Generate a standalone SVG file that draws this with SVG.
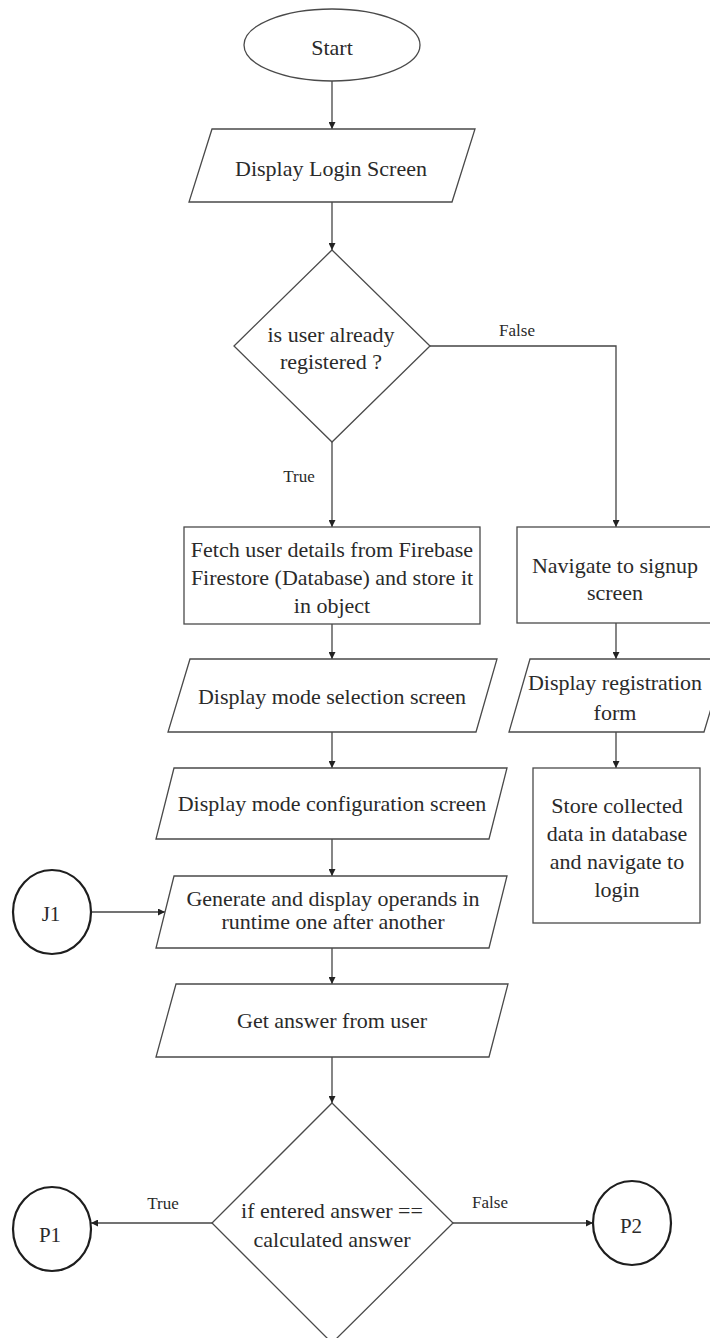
<svg xmlns="http://www.w3.org/2000/svg" width="710" height="1338" viewBox="0 0 710 1338">
<style>
.s{fill:#fff;stroke:#4a4a4a;stroke-width:1.3}
.c{fill:#fff;stroke:#1e1e1e;stroke-width:2.2}
.t{font-family:"Liberation Serif","Times New Roman",serif;font-size:22px;fill:#2a2a2a;text-anchor:middle}
.l{font-family:"Liberation Serif","Times New Roman",serif;font-size:17px;fill:#2a2a2a;text-anchor:middle}
.e{fill:none;stroke:#444;stroke-width:1.3}
</style>
<defs>
<marker id="ah" viewBox="0 0 10 10" refX="10" refY="5" markerWidth="7" markerHeight="7" markerUnits="userSpaceOnUse" orient="auto">
<path d="M0,0 L10,5 L0,10 z" fill="#222"/>
</marker>
</defs>
<rect width="710" height="1338" fill="#fff"/>
<g id="connectors">
<path class="e" d="M332,81 V129" marker-end="url(#ah)"/>
<path class="e" d="M332,202 V250" marker-end="url(#ah)"/>
<path class="e" d="M332,442 V527" marker-end="url(#ah)"/>
<path class="e" d="M430,346 H616 V527" marker-end="url(#ah)"/>
<path class="e" d="M332,624 V659" marker-end="url(#ah)"/>
<path class="e" d="M616,623 V659" marker-end="url(#ah)"/>
<path class="e" d="M616,732 V768" marker-end="url(#ah)"/>
<path class="e" d="M332,732 V768" marker-end="url(#ah)"/>
<path class="e" d="M332,839 V876" marker-end="url(#ah)"/>
<path class="e" d="M91,912 H165" marker-end="url(#ah)"/>
<path class="e" d="M332,948 V984" marker-end="url(#ah)"/>
<path class="e" d="M332,1057 V1103" marker-end="url(#ah)"/>
<path class="e" d="M212,1223 H91" marker-end="url(#ah)"/>
<path class="e" d="M453,1223 H593" marker-end="url(#ah)"/>
<text class="l" x="299" y="482">True</text>
<text class="l" x="517" y="336">False</text>
<text class="l" x="163" y="1209">True</text>
<text class="l" x="490" y="1208">False</text>
</g>
<g id="start">
<ellipse class="s" cx="332" cy="45" rx="88" ry="36"/>
<text class="t" x="332" y="55">Start</text>
</g>
<g id="login">
<polygon class="s" points="212,129 475,129 452,202 189,202"/>
<text class="t" x="331" y="176">Display Login Screen</text>
</g>
<g id="registered">
<polygon class="s" points="332,250 430,346 332,442 234,346"/>
<text class="t" x="331" y="342">is user already</text>
<text class="t" x="331" y="369">registered ?</text>
</g>
<g id="fetch">
<rect class="s" x="184" y="527" width="296" height="97"/>
<text class="t" x="332" y="557">Fetch user details from Firebase</text>
<text class="t" x="332" y="585">Firestore (Database) and store it</text>
<text class="t" x="332" y="613">in object</text>
</g>
<g id="signup">
<rect class="s" x="517" y="527" width="198" height="96"/>
<text class="t" x="615" y="573">Navigate to signup</text>
<text class="t" x="615" y="600">screen</text>
</g>
<g id="selection">
<polygon class="s" points="190,659 497,659 476,732 168,732"/>
<text class="t" x="332" y="704">Display mode selection screen</text>
</g>
<g id="registration">
<polygon class="s" points="530,659 726,659 704,732 509,732"/>
<text class="t" x="615" y="690">Display registration</text>
<text class="t" x="615" y="720">form</text>
</g>
<g id="config">
<polygon class="s" points="174,768 507,768 489,839 156,839"/>
<text class="t" x="332" y="811">Display mode configuration screen</text>
</g>
<g id="store">
<rect class="s" x="533" y="768" width="167" height="155"/>
<text class="t" x="617" y="813">Store collected</text>
<text class="t" x="617" y="841">data in database</text>
<text class="t" x="617" y="869">and navigate to</text>
<text class="t" x="617" y="897">login</text>
</g>
<g id="j1">
<ellipse class="c" cx="52" cy="912" rx="39" ry="42"/>
<text class="t" x="51" y="921" style="font-size:21px">J1</text>
</g>
<g id="generate">
<polygon class="s" points="174,876 507,876 489,948 156,948"/>
<text class="t" x="333" y="906">Generate and display operands in</text>
<text class="t" x="333" y="929">runtime one after another</text>
</g>
<g id="answer">
<polygon class="s" points="176,984 508,984 489,1057 156,1057"/>
<text class="t" x="332" y="1028">Get answer from user</text>
</g>
<g id="compare">
<polygon class="s" points="332,1103 453,1223 332,1343 212,1223"/>
<text class="t" x="332" y="1218">if entered answer ==</text>
<text class="t" x="332" y="1247">calculated answer</text>
</g>
<g id="p1">
<ellipse class="c" cx="52" cy="1229" rx="39" ry="42"/>
<text class="t" x="50" y="1242" style="font-size:21px">P1</text>
</g>
<g id="p2">
<ellipse class="c" cx="632" cy="1223" rx="39" ry="42"/>
<text class="t" x="631" y="1233" style="font-size:21px">P2</text>
</g>
</svg>
